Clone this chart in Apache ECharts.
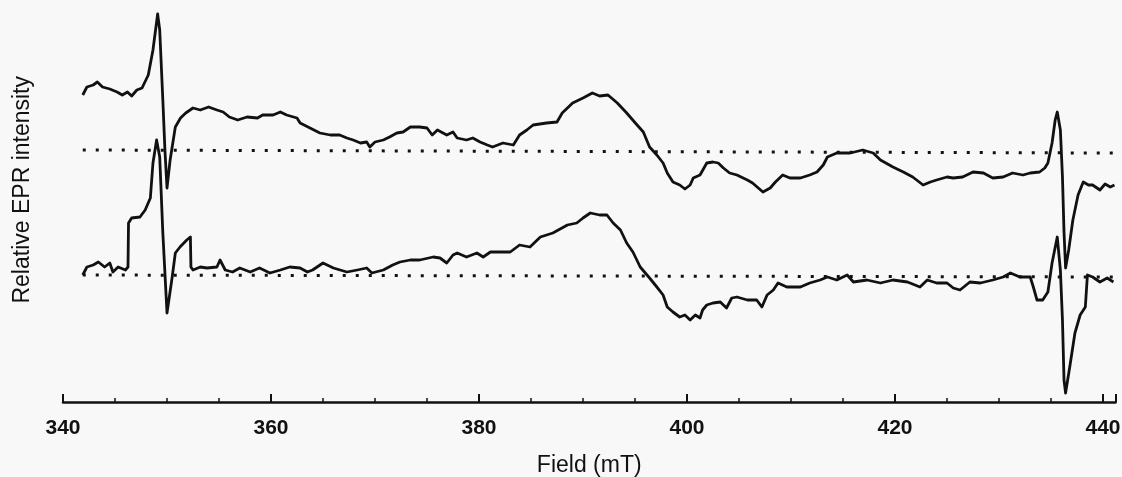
<!DOCTYPE html>
<html>
<head>
<meta charset="utf-8">
<script src="https://cdn.jsdelivr.net/npm/echarts@6/dist/echarts.min.js"></script>
<style>
  html, body { margin: 0; padding: 0; background: #f8f8f8; }
  #chart { width: 1122px; height: 477px; }
</style>
</head>
<body>
<div id="chart"></div>
<script>
// upper spectrum: field (mT) and relative intensity
const field1 = [341.9, 342.3, 342.9, 343.3, 343.8, 344.5, 345.2, 345.7, 346.2, 346.6, 347.1, 347.6, 348.2, 348.65, 349.1,
  349.3, 349.6, 349.8, 350.0, 350.3, 350.8, 351.3, 351.8, 352.5, 353.2, 354.0, 354.8, 355.4, 356.0, 356.8,
  357.7, 358.7, 359.2, 360.2, 360.9, 361.5, 362.5, 362.8, 363.75, 364.7, 365.7, 366.6, 367.3, 367.9, 368.6,
  369.2, 369.5, 370.0, 370.8, 371.4, 372.1, 372.7, 373.4, 374.3, 375.0, 375.5, 376.0, 376.9, 377.5, 377.9,
  378.8, 379.4, 380.1, 380.8, 381.3, 382.3, 383.3, 383.9, 384.6, 385.2, 386.5, 387.5, 388.0, 389.0, 390.0,
  390.9, 391.6, 392.4, 393.3, 394.2, 395.2, 395.8, 396.4, 397.1, 397.7, 398.1, 398.65, 399.3, 399.8, 400.3,
  400.6, 401.25, 401.9, 402.5, 403.0, 403.5, 404.1, 404.8, 405.8, 406.3, 407.3, 408.0, 408.5, 409.2, 409.9,
  410.9, 411.8, 412.5, 413.1, 413.5, 414.4, 415.7, 416.9, 417.9, 418.6, 419.8, 420.8, 421.7, 422.7, 423.4,
  424.0, 425.0, 425.6, 426.5, 427.5, 428.5, 429.4, 430.4, 431.3, 432.3, 433.0, 433.9, 434.4, 434.7, 435.1,
  435.4, 435.6, 435.9, 436.1, 436.25, 436.4, 436.7, 437.1, 437.6, 438.1, 438.6, 439.0, 439.7, 440.2, 440.7, 441.1];
const intensity1 = [57, 65, 67, 70, 65, 63, 60, 57, 60, 56, 62, 64, 77, 102, 138,
  122, 52, 2, -36, -8, 25, 34, 39, 44, 42, 45, 42, 40, 35, 32,
  35, 34, 37, 37, 40, 37, 34, 29, 24, 19, 17, 17, 14, 12, 9,
  10, 5, 10, 12, 15, 19, 20, 25, 25, 24, 17, 22, 17, 20, 14,
  12, 14, 10, 7, 5, 9, 7, 17, 22, 27, 29, 30, 39, 49, 54,
  59, 56, 57, 49, 39, 27, 20, 5, -3, -11, -21, -30, -33, -37, -33,
  -26, -23, -11, -10, -11, -16, -21, -23, -28, -31, -40, -36, -30, -23, -26,
  -26, -23, -20, -13, -5, -1, -1, 2, -1, -8, -15, -20, -25, -33, -30,
  -28, -25, -26, -25, -20, -21, -26, -25, -21, -23, -21, -20, -16, -11, 9,
  32, 40, 22, -25, -80, -116, -98, -68, -43, -30, -33, -33, -38, -32, -35, -33];

// lower spectrum
const field2 = [341.9, 342.3, 342.9, 343.4, 344.0, 344.5, 344.8, 345.3, 346.0, 346.25, 346.3, 346.6, 347.4, 347.9, 348.4,
  348.65, 349.0, 349.3, 349.6, 350.0, 350.5, 350.8, 351.25, 351.9, 352.25, 352.3, 352.5, 353.2, 353.85, 354.8,
  355.1, 355.6, 356.3, 357.0, 358.0, 358.9, 359.9, 360.9, 361.8, 362.8, 363.5, 364.0, 365.0, 366.0, 367.3,
  368.3, 369.2, 369.7, 370.8, 371.7, 372.4, 373.4, 374.3, 375.6, 376.25, 376.9, 377.5, 377.9, 378.8, 379.8,
  380.4, 381.1, 382.0, 383.0, 383.9, 384.9, 385.9, 387.1, 388.5, 389.4, 390.0, 390.7, 391.6, 392.3, 392.9,
  393.6, 394.2, 394.8, 395.5, 396.4, 397.1, 397.7, 398.1, 398.65, 399.3, 399.8, 400.3, 400.8, 401.25, 401.5,
  401.9, 402.5, 403.2, 403.8, 404.3, 404.8, 405.8, 406.7, 407.2, 407.7, 408.3, 408.75, 409.6, 410.9, 411.8,
  412.8, 413.5, 414.4, 415.4, 416.0, 417.3, 418.6, 419.8, 421.2, 422.4, 423.1, 424.0, 425.0, 425.6, 426.25,
  427.2, 428.2, 429.4, 430.4, 431.1, 432.0, 433.0, 433.3, 433.65, 434.2, 434.7, 435.1, 435.6, 435.9, 436.1,
  436.25, 436.4, 436.8, 437.3, 437.8, 438.3, 438.5, 439.0, 439.7, 440.4, 441.0];
const intensity2 = [1, 9, 11, 14, 9, 13, 4, 9, 6, 9, 53, 58, 59, 66, 78,
  113, 136, 119, 43, -37, -1, 23, 29, 36, 39, 9, 6, 9, 8, 9,
  16, 6, 4, 8, 4, 8, 3, 6, 9, 8, 4, 6, 13, 8, 4,
  6, 8, 3, 6, 11, 14, 16, 16, 19, 18, 13, 21, 23, 19, 23,
  19, 24, 24, 24, 31, 29, 39, 43, 51, 53, 58, 63, 61, 61, 53,
  46, 33, 24, 9, -2, -11, -19, -31, -36, -41, -39, -44, -39, -42, -34,
  -29, -27, -26, -32, -22, -21, -24, -24, -31, -19, -14, -7, -11, -11, -7,
  -4, -1, -4, 1, -6, -4, -7, -4, -6, -11, -4, -7, -7, -12, -14,
  -6, -7, -4, -1, 3, -1, -1, -11, -24, -24, -16, 13, 39, 6, -44,
  -104, -117, -91, -57, -39, -31, 1, -1, -6, -2, -6];

// dotted zero lines (start / end field, level)
const baseField = [341.9, 441.0];
const baseLevel1 = [2, -1];
const baseLevel2 = [1, -1];

const TOP_OFFSET = 124;

const pairs = (xs, ys, off) => xs.map((x, i) => [x, ys[i] + off]);

const chart = echarts.init(document.getElementById('chart'), null, { renderer: 'canvas' });
chart.setOption({
  animation: false,
  backgroundColor: '#f8f8f8',
  grid: { left: 63, right: 6.5, top: 0, bottom: 75, outerBoundsMode: 'none', containLabel: false },
  xAxis: {
    type: 'value',
    min: 340,
    max: 441.2,
    interval: 20,
    name: 'Field (mT)',
    nameLocation: 'middle',
    nameGap: 52,
    nameTextStyle: { fontFamily: 'Liberation Sans', fontSize: 23, color: '#111' },
    axisLine: { onZero: false, lineStyle: { color: '#111', width: 2.5 } },
    axisTick: { inside: true, length: 8, lineStyle: { color: '#111', width: 2 } },
    minorTick: { show: true, splitNumber: 4, length: 4, lineStyle: { color: '#111', width: 1.5 } },
    axisLabel: { margin: 16, fontFamily: 'Liberation Sans', fontWeight: 'bold', fontSize: 21, color: '#111', showMaxLabel: false },
    splitLine: { show: false }
  },
  yAxis: {
    type: 'value',
    min: -126,
    max: 276,
    axisLine: { show: false },
    axisTick: { show: false },
    axisLabel: { show: false },
    splitLine: { show: false }
  },
  graphic: [{
    type: 'text',
    left: 11,
    top: 76,
    style: { text: 'Relative EPR intensity', fontFamily: 'Liberation Sans', fontSize: 23, fill: '#111' },
    rotation: Math.PI / 2
  }],
  series: [
    { type: 'line', data: pairs(baseField, baseLevel1, TOP_OFFSET), showSymbol: false,
      lineStyle: { color: '#111', width: 3, type: [3, 10] } },
    { type: 'line', data: pairs(baseField, baseLevel2, 0), showSymbol: false,
      lineStyle: { color: '#111', width: 3, type: [3, 10] } },
    { type: 'line', data: pairs(field1, intensity1, TOP_OFFSET), showSymbol: false,
      lineStyle: { color: '#111', width: 2.8, join: 'round' } },
    { type: 'line', data: pairs(field2, intensity2, 0), showSymbol: false,
      lineStyle: { color: '#111', width: 2.8, join: 'round' } }
  ]
});
</script>
</body>
</html>
